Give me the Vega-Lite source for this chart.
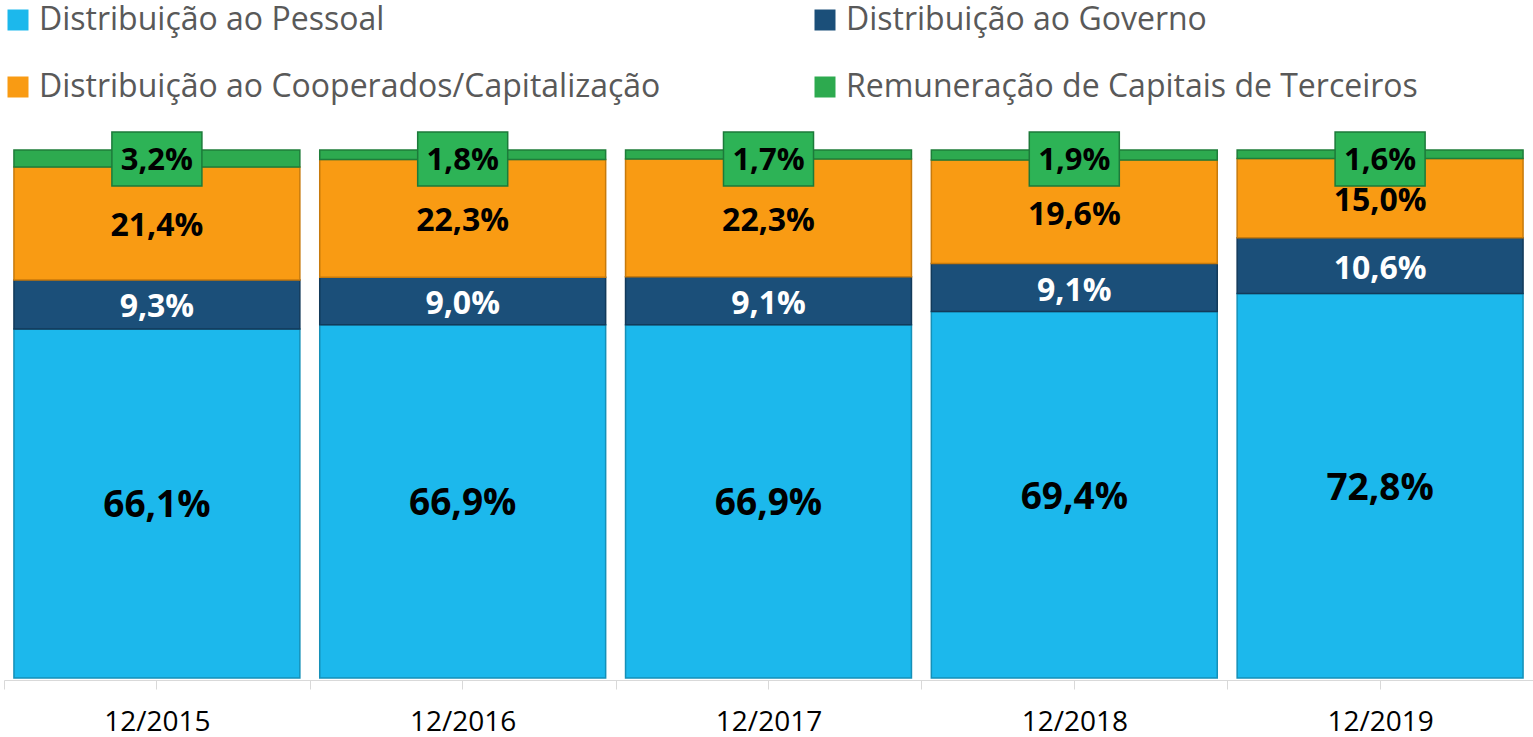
{
  "$schema": "https://vega.github.io/schema/vega-lite/v6.json",
  "width": 1529,
  "height": 528,
  "autosize": "none",
  "padding": {"left": 4, "top": 150, "right": 0, "bottom": 59},
  "background": "white",
  "config": {
    "view": {"stroke": null},
    "font": "Open Sans"
  },
  "data": {
    "values": [
      {"periodo": "12/2015", "serie": "Distribuição ao Pessoal", "valor": 66.1, "ordem": 1},
      {"periodo": "12/2015", "serie": "Distribuição ao Governo", "valor": 9.3, "ordem": 2},
      {"periodo": "12/2015", "serie": "Distribuição ao Cooperados/Capitalização", "valor": 21.4, "ordem": 3},
      {"periodo": "12/2015", "serie": "Remuneração de Capitais de Terceiros", "valor": 3.2, "ordem": 4},
      {"periodo": "12/2016", "serie": "Distribuição ao Pessoal", "valor": 66.9, "ordem": 1},
      {"periodo": "12/2016", "serie": "Distribuição ao Governo", "valor": 9.0, "ordem": 2},
      {"periodo": "12/2016", "serie": "Distribuição ao Cooperados/Capitalização", "valor": 22.3, "ordem": 3},
      {"periodo": "12/2016", "serie": "Remuneração de Capitais de Terceiros", "valor": 1.8, "ordem": 4},
      {"periodo": "12/2017", "serie": "Distribuição ao Pessoal", "valor": 66.9, "ordem": 1},
      {"periodo": "12/2017", "serie": "Distribuição ao Governo", "valor": 9.1, "ordem": 2},
      {"periodo": "12/2017", "serie": "Distribuição ao Cooperados/Capitalização", "valor": 22.3, "ordem": 3},
      {"periodo": "12/2017", "serie": "Remuneração de Capitais de Terceiros", "valor": 1.7, "ordem": 4},
      {"periodo": "12/2018", "serie": "Distribuição ao Pessoal", "valor": 69.4, "ordem": 1},
      {"periodo": "12/2018", "serie": "Distribuição ao Governo", "valor": 9.1, "ordem": 2},
      {"periodo": "12/2018", "serie": "Distribuição ao Cooperados/Capitalização", "valor": 19.6, "ordem": 3},
      {"periodo": "12/2018", "serie": "Remuneração de Capitais de Terceiros", "valor": 1.9, "ordem": 4},
      {"periodo": "12/2019", "serie": "Distribuição ao Pessoal", "valor": 72.8, "ordem": 1},
      {"periodo": "12/2019", "serie": "Distribuição ao Governo", "valor": 10.6, "ordem": 2},
      {"periodo": "12/2019", "serie": "Distribuição ao Cooperados/Capitalização", "valor": 15.0, "ordem": 3},
      {"periodo": "12/2019", "serie": "Remuneração de Capitais de Terceiros", "valor": 1.6, "ordem": 4}
    ]
  },
  "transform": [
    {"stack": "valor", "groupby": ["periodo"], "sort": [{"field": "ordem", "order": "ascending"}], "as": ["y0", "y1"]},
    {"calculate": "(datum.y0 + datum.y1) / 2", "as": "ymid"},
    {"calculate": "replace(format(datum.valor, '.1f'), '.', ',') + '%'", "as": "rotulo"}
  ],
  "resolve": {"axis": {"x": "independent"}},
  "layer": [
    {
      "mark": {"type": "bar", "width": {"band": 0.935}, "strokeWidth": 1.5},
      "encoding": {
        "x": {
          "field": "periodo", "type": "nominal", "title": null,
          "scale": {"paddingInner": 0, "paddingOuter": 0},
          "axis": {
            "orient": "bottom", "tickBand": "extent", "offset": 2,
            "domainColor": "#d9d9d9", "tickColor": "#d9d9d9", "tickSize": 9,
            "labelAngle": 0, "labelFontSize": 28, "labelColor": "#000000",
            "labelPadding": 19, "labelFont": "Open Sans"
          }
        },
        "y": {"field": "y0", "type": "quantitative", "scale": {"domain": [0, 100]}, "axis": null},
        "y2": {"field": "y1"},
        "color": {
          "field": "serie", "type": "nominal", "title": null,
          "scale": {
            "domain": ["Distribuição ao Pessoal", "Distribuição ao Governo", "Distribuição ao Cooperados/Capitalização", "Remuneração de Capitais de Terceiros"],
            "range": ["#1cb8ec", "#1b4f79", "#f99b13", "#2daa4f"]
          },
          "legend": {
            "orient": "none", "legendX": -2, "legendY": -146, "direction": "horizontal", "columns": 2,
            "symbolType": "square", "symbolSize": 441, "symbolStrokeWidth": 0,
            "labelFontSize": 32, "labelColor": "#595959", "labelFont": "Open Sans",
            "labelOffset": 5, "columnPadding": 148, "rowPadding": 35, "labelLimit": 900, "padding": 0
          }
        },
        "stroke": {
          "field": "serie", "type": "nominal", "legend": null,
          "scale": {
            "domain": ["Distribuição ao Pessoal", "Distribuição ao Governo", "Distribuição ao Cooperados/Capitalização", "Remuneração de Capitais de Terceiros"],
            "range": ["#1590b8", "#123a5a", "#c77a0c", "#1f7d3a"]
          }
        }
      }
    },
    {
      "transform": [{"filter": "datum.ordem == 4"}],
      "mark": {
        "type": "point", "filled": true, "opacity": 1,
        "shape": "M-1.667,-1L1.667,-1L1.667,1L-1.667,1Z",
        "size": 2916, "fill": "#2db356", "stroke": "#1c7a3a", "strokeWidth": 1.5, "yOffset": 9
      },
      "encoding": {
        "x": {
          "field": "periodo", "type": "nominal",
          "axis": {
            "orient": "bottom", "offset": 2, "labels": false, "domain": false, "title": null,
            "tickColor": "#d9d9d9", "tickSize": 9
          }
        },
        "y": {"field": "y1", "type": "quantitative"}
      }
    },
    {
      "transform": [{"filter": "datum.ordem == 4"}],
      "mark": {"type": "text", "fontSize": 31, "fontWeight": "bold", "font": "Open Sans", "color": "#000000", "yOffset": 11, "baseline": "middle"},
      "encoding": {
        "x": {"field": "periodo", "type": "nominal", "axis": null},
        "y": {"field": "y1", "type": "quantitative"},
        "text": {"field": "rotulo"}
      }
    },
    {
      "transform": [{"filter": "datum.ordem < 4"}],
      "mark": {"type": "text", "fontWeight": "bold", "font": "Open Sans", "baseline": "middle", "dy": 3},
      "encoding": {
        "x": {"field": "periodo", "type": "nominal", "axis": null},
        "y": {"field": "ymid", "type": "quantitative"},
        "text": {"field": "rotulo"},
        "color": {"condition": {"test": "datum.ordem == 2", "value": "#ffffff"}, "value": "#000000"},
        "size": {"condition": {"test": "datum.ordem == 1", "value": 37}, "value": 32}
      }
    }
  ]
}
